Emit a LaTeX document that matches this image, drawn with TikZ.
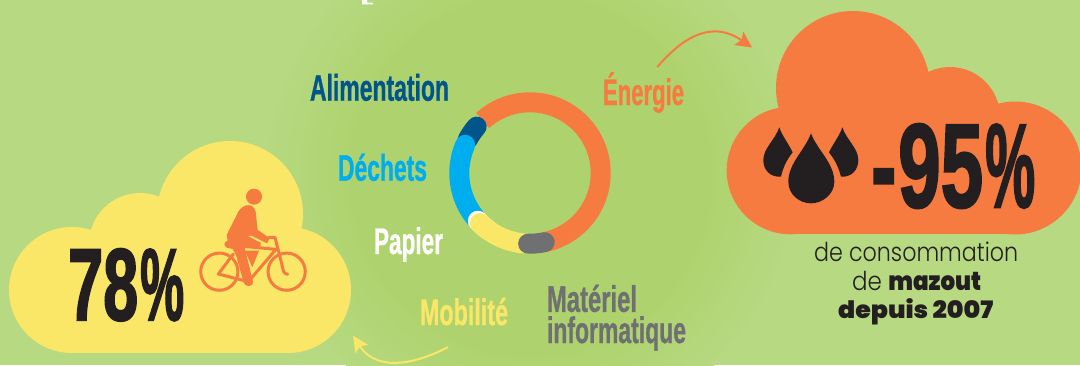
\documentclass[tikz,border=0pt]{standalone}
\usepackage{fontspec}
\usepackage{graphicx}
\usetikzlibrary{arrows.meta}
\setmainfont{Liberation Sans}
\newfontfamily\condf[UprightFont=* Bold,FakeBold=1.0]{Liberation Sans}
\newfontfamily\heavyf[UprightFont=* Bold,FakeBold=2.2]{Liberation Sans}
\newfontfamily\popl[UprightFont=* Light]{Poppins}
\newfontfamily\popx[UprightFont=* Black]{Poppins}
\definecolor{bgout}{HTML}{B6D981}
\definecolor{bgcen}{HTML}{AED36E}
\definecolor{orangec}{HTML}{F57B41}
\definecolor{yellowc}{HTML}{FAE768}
\definecolor{navyc}{HTML}{00558A}
\definecolor{bluec}{HTML}{00AEEF}
\definecolor{grayc}{HTML}{6F7072}
\definecolor{inkc}{HTML}{231F20}
\pgfdeclareradialshading{blob}{\pgfpoint{0bp}{0bp}}{color(0bp)=(bgcen); color(17bp)=(bgcen); color(25bp)=(bgout); color(50bp)=(bgout)}
\newcommand{\fitw}[3]{\resizebox{#1pt}{\height}{\fontsize{#2}{#2}\selectfont #3}}
\tikzset{
  lab/.style={inner sep=0pt,outer sep=0pt,anchor=base west,font=\condf},
  seg/.style={line width=20pt,line cap=butt},
  segr/.style={line width=20pt,line cap=round},
  conn/.style={line width=2pt},
}
\begin{document}
\begin{tikzpicture}[x=1pt,y=-1pt]
\useasboundingbox (0,0) rectangle (1080,365);
\begin{scope}
\clip (0,0) rectangle (1080,365);
\fill[bgout] (0,0) rectangle (1080,365);
\shade[shading=blob] (530,175) circle[radius=265pt];
% top fragment
\fill[white] (362,0) -- (367,0) -- (367,2.7) -- (373,2.7) -- (373,4.3) -- (362,4.3) -- cycle;
% yellow cloud
\fill[yellowc] (72,290) circle[radius=63pt] (140,244) circle[radius=51pt] (230,214) circle[radius=73pt] (288,290) circle[radius=63pt];
\fill[yellowc] (72,270) rectangle (288,353);
% orange cloud
\fill[orangec] (790.5,170.5) circle[radius=63.8pt] (853,88) circle[radius=77pt] (950,117) circle[radius=50pt] (1015,168) circle[radius=66.5pt];
\fill[orangec] (790,120) rectangle (1015,234.4);
% ring
\coordinate (rc) at (530,173);
\draw[seg,orangec] (rc) ++(132:70.7pt) arc[start angle=132,end angle=-78,radius=70.7pt];
\draw[segr,navyc] (rc) ++(139:70.7pt) arc[start angle=139,end angle=152,radius=70.7pt];
\draw[seg,bluec] (rc) ++(220:70.7pt) arc[start angle=220,end angle=165,radius=70.7pt];
\draw[segr,bluec] (rc) ++(165:70.7pt) arc[start angle=165,end angle=156.5,radius=70.7pt];
\draw[segr,white] (rc) ++(222.5:70.7pt) arc[start angle=222.5,end angle=235,radius=70.7pt];
\draw[segr,yellowc] (rc) ++(225:70.7pt) arc[start angle=225,end angle=265,radius=70.7pt];
\draw[segr,grayc] (rc) ++(268.5:70.7pt) arc[start angle=268.5,end angle=282,radius=70.7pt];
% labels
\node[lab,text=navyc] (alim) at (310,100.7) {\fitw{139}{37}{Alimentation}};
\node[lab,text=bluec] (dech) at (338,180.7) {\fitw{89}{37}{Déchets}};
\node[lab,text=white] (papi) at (374,254) {\fitw{69}{37}{Papier}};
\node[lab,text=orangec] (ener) at (603,105) {\fitw{81}{37}{Énergie}};
\node[lab,text=yellowc] (mobi) at (420,325) {\fitw{88}{37}{Mobilité}};
\node[inner sep=0pt,outer sep=0pt,anchor=base west,font=\condf,text=grayc,align=left] (mate) at (547,343) {\fitw{90}{37}{Matériel}\\[3pt]\fitw{139}{37}{informatique}};
% arrows
\coordinate (a1s) at (657.3,67);
\coordinate (a1e) at (752,47.5);
\draw[conn,orangec,-{Stealth[length=16pt,width=16pt,inset=3pt]}] (a1s) .. controls (677,44) and (708,17) .. (a1e);
\coordinate (a2s) at (448,347);
\coordinate (a2e) at (353,335.5);
\draw[conn,yellowc,-{Stealth[length=16pt,width=15pt,inset=3pt]}] (a2s) .. controls (420,362) and (378,374) .. (a2e);
% big numbers
\node[inner sep=0pt,anchor=base west,font=\heavyf,text=inkc] (n78) at (68,320) {\fitw{70}{102}{78}\hspace{2pt}\fitw{44}{102}{\%}};
\node[inner sep=0pt,anchor=base west,font=\heavyf,text=inkc] (n95) at (871,207) {\fitw{25}{119}{-}\hspace{2pt}\fitw{85}{119}{95}\hspace{2pt}\fitw{50}{119}{\%}};
% lower text
\node[inner sep=0pt,anchor=base west,text=inkc,font=\popl] (t1) at (814,261) {\fitw{204}{26}{de consommation}};
\node[inner sep=0pt,anchor=base west,text=inkc,font=\popl] (t2) at (852,290) {\fitw{129}{26}{de {\popx mazout}}};
\node[inner sep=0pt,anchor=base west,text=inkc,font=\popx] (t3) at (838,318) {\fitw{155}{24}{depuis 2007}};
\end{scope}
% cyclist, in px from zoom origin (195,180), scale 1/3
\begin{scope}[x=0.33333pt,y=-0.33333pt,shift={(585,540)},orangec]
\fill (177,50) circle[radius=8pt];
\fill (130,95) .. controls (145,70) and (175,68) .. (182,95) -- (188,150) -- (224,174) -- (216,190) -- (170,167) -- (158,168) -- (197,188) -- (197,199) -- (148,199) -- (174,305) .. controls (178,322) and (148,322) .. (146,308) -- (123,225) -- (113,207) -- (95,203) .. controls (84,195) and (88,185) .. (98,182) -- (95,165) -- cycle;
\fill (150,212) -- (192,212) -- (172,262) -- cycle;
\begin{scope}[line width=3pt,line join=round,line cap=round,fill=none]
\draw (73,275) circle[radius=18.6pt];
\draw (275,275) circle[radius=18.6pt];
\draw (145,199) -- (243,208) -- (160,305) -- (70,282) -- (115,222);
\draw (222,172) -- (240,172) -- (260,250) .. controls (264,275) and (268,282) .. (278,283);
\end{scope}
\end{scope}
% drops, from zoom origin (755,120), scale 1/3
\begin{scope}[x=0.33333pt,y=-0.33333pt,shift={(2265,360)}]
\fill[inkc] (168,40) .. controls (150,90) and (100,130) .. (100,185) .. controls (100,225) and (135,250) .. (168,250) .. controls (200,250) and (238,225) .. (238,185) .. controls (238,130) and (187,90) .. (168,40) -- cycle;
\fill[inkc] (73,22) .. controls (80,45) and (100,70) .. (113,97) .. controls (95,120) and (85,140) .. (78,170) .. controls (45,172) and (25,150) .. (25,120) .. controls (25,85) and (60,60) .. (73,22) -- cycle;
\fill[inkc] (262,22) .. controls (255,45) and (235,70) .. (222,97) .. controls (240,120) and (250,140) .. (258,170) .. controls (290,172) and (310,150) .. (310,120) .. controls (310,85) and (275,60) .. (262,22) -- cycle;
\end{scope}
\end{tikzpicture}
\end{document}
